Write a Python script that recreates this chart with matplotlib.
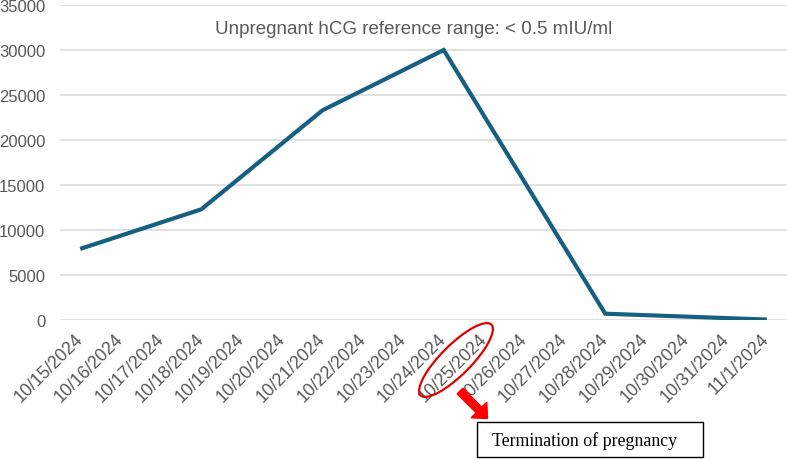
import matplotlib.pyplot as plt
from matplotlib.patches import Ellipse, FancyArrow, Rectangle
from matplotlib.transforms import IdentityTransform

# hCG measurements
dates = ['10/15/2024', '10/16/2024', '10/17/2024', '10/18/2024', '10/19/2024',
         '10/20/2024', '10/21/2024', '10/22/2024', '10/23/2024', '10/24/2024',
         '10/25/2024', '10/26/2024', '10/27/2024', '10/28/2024', '10/29/2024',
         '10/30/2024', '10/31/2024', '11/1/2024']
measured_dates = ['10/15/2024', '10/18/2024', '10/21/2024', '10/24/2024',
                  '10/28/2024', '11/1/2024']
hcg_values = [7900, 12300, 23300, 30000, 700, 50]
y_ticks = [0, 5000, 10000, 15000, 20000, 25000, 30000, 35000]

plt.rcParams['font.family'] = ['Liberation Sans', 'DejaVu Sans']

fig = plt.figure(figsize=(7.87, 4.6), dpi=100)
ax = fig.add_axes([60 / 787, 139 / 460, 727 / 787, 315 / 460])

x_pos = [dates.index(d) for d in measured_dates]
ax.plot(x_pos, hcg_values, color='#156082', linewidth=3, solid_joinstyle='miter',
        solid_capstyle='butt', zorder=3)

ax.set_xlim(-0.5, len(dates) - 0.5)
ax.set_ylim(0, 35000)
ax.set_yticks(y_ticks)
ax.set_yticklabels([str(v) for v in y_ticks])
ax.set_xticks(range(len(dates)))
ax.set_xticklabels(dates, rotation=45, ha='right', va='center',
                   rotation_mode='anchor')
ax.tick_params(axis='both', length=0, labelcolor='#595959')
ax.tick_params(axis='y', pad=10.5, labelsize=12)
ax.tick_params(axis='x', pad=11.5, labelsize=12.8)

ax.grid(axis='y', color='#d9d9d9', linewidth=1.1)
ax.set_axisbelow(True)
for s in ax.spines.values():
    s.set_visible(False)

ax.text(0.486, 0.925, 'Unpregnant hCG reference range: < 0.5 mIU/ml',
        transform=ax.transAxes, ha='center', va='center', fontsize=13.5,
        color='#595959')

# annotation around 10/25 label (pixel coordinates, y measured from bottom)
ell = Ellipse((456, 460 - 361), 100, 30, angle=45, fill=False,
              edgecolor='#e00000', linewidth=1.6, transform=IdentityTransform())
fig.add_artist(ell)
arr = FancyArrow(460, 460 - 392, 19, -19, width=8, head_width=22,
                 head_length=12, color='#ff0000', transform=IdentityTransform())
fig.add_artist(arr)

box = Rectangle((477, 460 - 458), 226, 35, fill=True, facecolor='white',
                edgecolor='black', linewidth=1, transform=IdentityTransform())
fig.add_artist(box)
fig.text(492 / 787, (460 - 441) / 460, 'Termination of pregnancy',
         ha='left', va='center', fontsize=12.9, family='Liberation Serif')

fig.savefig('out.png', dpi=100)
